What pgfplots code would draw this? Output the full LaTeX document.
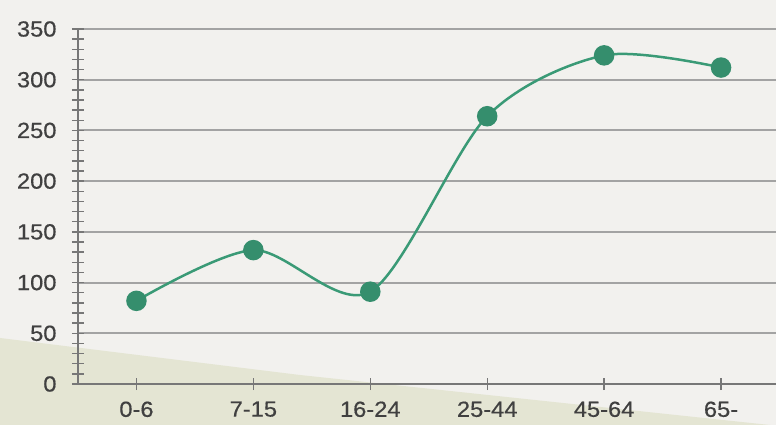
\documentclass[border=0pt]{standalone}
\usepackage{pgfplots}
\pgfplotsset{compat=1.18}
\usepackage{fontspec}
\setmainfont{Liberation Sans}[FakeStretch=1.08,FakeBold=0.5]
\definecolor{bg}{HTML}{F2F1EE}
\definecolor{beige}{HTML}{E4E5D3}
\definecolor{gridc}{HTML}{A3A3A3}
\definecolor{axisc}{HTML}{777777}
\definecolor{tealc}{HTML}{3A9A76}
\definecolor{txt}{HTML}{404040}
\begin{document}
\begin{tikzpicture}
\fill[bg] (0bp,0bp) rectangle (776bp,425bp);
\fill[beige] (0bp,87bp) -- (300bp,50bp) -- (770bp,0bp) -- (0bp,0bp) -- cycle;
\begin{axis}[
  at={(78bp,41bp)}, anchor=south west,
  scale only axis, width=698bp, height=355bp,
  xmin=-0.5, xmax=5.47, ymin=0, ymax=350,
  ytick={0,50,...,350}, minor y tick num=4,
  xtick={0,...,5},
  xticklabels={0-6,7-15,16-24,25-44,45-64,65-},
  axis x line=bottom, axis y line=left,
  axis line style={-, draw=axisc, line width=1.6bp},
  ymajorgrids, grid style={draw=gridc, line width=1.9bp},
  tick align=center, major tick length=12bp, minor tick length=12bp,
  tick style={draw=axisc, line width=1.3bp},
  ticklabel style={font=\fontsize{22}{25}\selectfont, text=txt},
  yticklabel style={xshift=-12bp},
  xticklabel style={yshift=-8bp},
  /pgf/number format/assume math mode=true,
]
\addplot[draw=tealc, line width=2.5bp, smooth, mark=*, mark size=9bp,
  mark options={fill=tealc!92!black, draw=tealc!92!black}]
  coordinates {(0,82)(1,132)(2,91)(3,264)(4,324)(5,312)};
\end{axis}
\pgfresetboundingbox
\path (0bp,0bp) rectangle (776bp,425bp);
\end{tikzpicture}
\end{document}
